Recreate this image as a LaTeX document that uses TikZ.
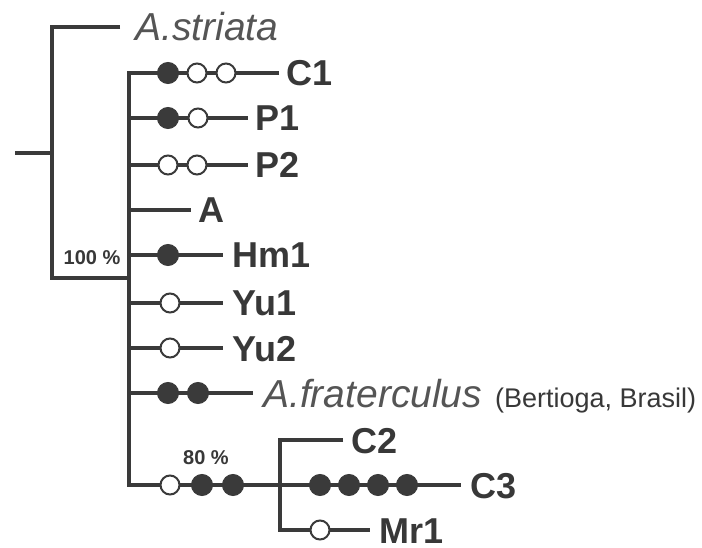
\documentclass[tikz,border=0pt]{standalone}
\usepackage{fontspec}
\setmainfont{Liberation Sans}
\definecolor{ln}{HTML}{3A3A3A}
\definecolor{tx}{HTML}{383838}
\definecolor{sg}{HTML}{555555}
\begin{document}
\begin{tikzpicture}[x=1pt,y=-1pt,
  br/.style={draw=ln, line width=4.5pt, line join=miter},
  lab/.style={anchor=west, inner xsep=7pt, inner ysep=0pt, text=tx,
    font=\fontsize{36}{36}\selectfont\bfseries, text height=26pt, text depth=0pt},
  spec/.style={anchor=west, inner xsep=10pt, inner ysep=0pt, text=sg,
    font=\fontsize{39}{39}\selectfont\itshape, text height=28pt, text depth=0pt},
  fdot/.style={circle, fill=ln, draw=ln, line width=1pt, minimum size=21pt, inner sep=0pt},
  odot/.style={circle, fill=white, draw=ln, line width=2pt, minimum size=19pt, inner sep=0pt},
  pct/.style={text=tx, font=\fontsize{20}{20}\selectfont\bfseries, inner sep=0pt}]
\useasboundingbox (0,0) rectangle (702,548);
\fill[white] (0,0) rectangle (702,548);

% junction coordinates
\coordinate (root) at (15,153);
\coordinate (rj) at (52,153);
\coordinate (bot) at (52,278);
\coordinate (ibot) at (129,278);
\coordinate (iC1) at (129,73);
\coordinate (iP1) at (129,118);
\coordinate (iP2) at (129,165);
\coordinate (iA) at (129,210);
\coordinate (iHm) at (129,255);
\coordinate (iYu1) at (129,303);
\coordinate (iYu2) at (129,348);
\coordinate (iAf) at (129,393);
\coordinate (i80) at (129,485);
\coordinate (jm) at (280,530);

% labels
\node[spec, inner xsep=15pt] (Astr) at (120,27) {A.striata};
\node[lab] (C1) at (279,73) {C1};
\node[lab] (P1) at (248,118) {P1};
\node[lab] (P2) at (248,165) {P2};
\node[lab] (A) at (191,210) {A};
\node[lab, inner xsep=9pt] (Hm1) at (223,255) {Hm1};
\node[lab, inner xsep=9pt] (Yu1) at (223,303) {Yu1};
\node[lab, inner xsep=9pt] (Yu2) at (223,348) {Yu2};
\node[spec] (Af) at (253,393) {A.fraterculus\hspace{13pt}{\fontsize{27}{27}\selectfont\upshape\color{tx}(Bertioga, Brasil)}};
\node[lab, inner xsep=8pt] (C2) at (343,440) {C2};
\node[lab, inner xsep=9pt] (C3) at (461,485) {C3};
\node[lab, inner xsep=9pt] (Mr1) at (370,530) {Mr1};

% branches
\draw[br] (root) -- (rj);
\draw[br] (Astr.west) -| (bot) -- (ibot);
\draw[br] (C1.west) -| (i80) -- (C3.west);
\draw[br] (iP1) -- (P1.west);
\draw[br] (iP2) -- (P2.west);
\draw[br] (iA) -- (A.west);
\draw[br] (iHm) -- (Hm1.west);
\draw[br] (iYu1) -- (Yu1.west);
\draw[br] (iYu2) -- (Yu2.west);
\draw[br] (iAf) -- (Af.west);
\draw[br] (C2.west) -| (jm) -- (Mr1.west);

% character-state dots
\node[fdot] (c1a) at (168,73) {};
\node[odot] (c1b) at (197,73) {};
\node[odot] (c1c) at (226,73) {};
\node[fdot] (p1a) at (168,118) {};
\node[odot] (p1b) at (198,118) {};
\node[odot] (p2a) at (168,165) {};
\node[odot] (p2b) at (197,165) {};
\node[fdot] (hma) at (168,255) {};
\node[odot] (y1a) at (170,303) {};
\node[odot] (y2a) at (170,348) {};
\node[fdot] (afa) at (168,393) {};
\node[fdot] (afb) at (198,393) {};
\node[odot] (e1) at (170,485) {};
\node[fdot] (e2) at (202,485) {};
\node[fdot] (e3) at (233,485) {};
\node[fdot] (c3a) at (320,485) {};
\node[fdot] (c3b) at (349,485) {};
\node[fdot] (c3c) at (378,485) {};
\node[fdot] (c3d) at (407,485) {};
\node[odot] (m1a) at (320,530) {};

% support values
\node[pct] (s100) at (92,258) {100 \%};
\node[pct] (s80) at (206,458) {80 \%};
\end{tikzpicture}
\end{document}
